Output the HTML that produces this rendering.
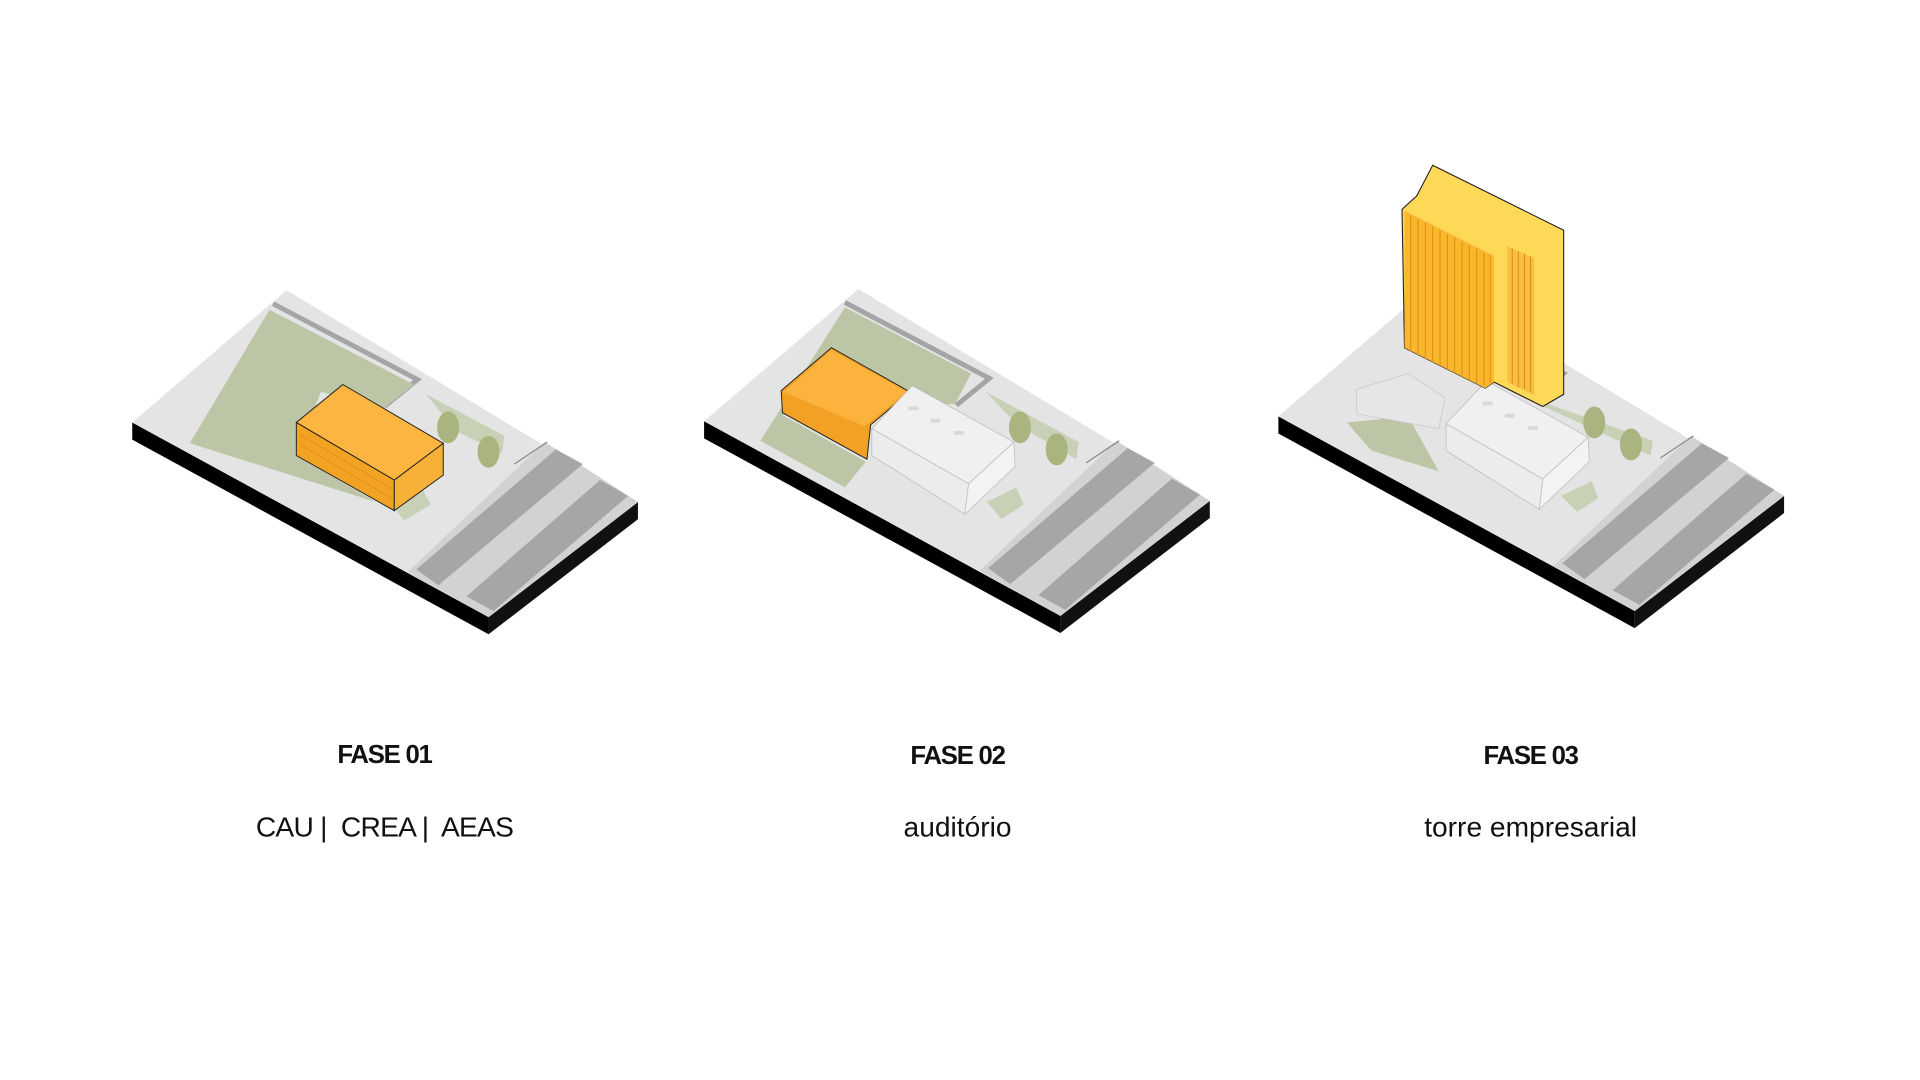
<!DOCTYPE html>
<html><head><meta charset="utf-8"><style>
html,body{margin:0;padding:0;background:#fff;}
svg{display:block;}
text{font-family:"Liberation Sans",sans-serif;fill:#111;text-anchor:middle;white-space:pre;}
</style></head><body>
<svg width="1920" height="1080" viewBox="0 0 1568 882" preserveAspectRatio="none" xmlns="http://www.w3.org/2000/svg">
<defs>
<g id="board">
  <polygon points="575,344 866,503 866,517 575,358" fill="#000"/>
  <polygon points="866,503 988,409 988,423 866,517" fill="#111"/>
  <polygon points="701,236 988,409 866,503 575,344" fill="#e4e4e4"/>
  <polygon points="912,360 988,409 866,503 800,466" fill="#d2d2d2"/>
  <polygon points="921,366 943,378 825,477 807,464" fill="#a6a6a6"/>
  <polygon points="957,391 980,404 870,498 848,486" fill="#a6a6a6"/>
  <line x1="914" y1="360" x2="887" y2="378" stroke="#888" stroke-width="1"/>
  <polyline points="690,247 808,309 781,331" fill="none" stroke="#a5a5a5" stroke-width="4"/>
</g>
</defs>

<g transform="translate(-467,1)"><use href="#board"/></g>
<polygon points="220,253 338,314 314,333 262,320 242,372 307,410 155,362" fill="#bcc6a7"/>
<polygon points="348,322 412,356 410,370 372,352" fill="#c8d0b6"/>
<polygon points="318,410 345,400 352,412 330,425" fill="#c8d0b6"/>
<polygon points="242,345 322,392 322,417 242,372" fill="#f2a323" stroke="#222" stroke-width="0.8"/>
<polygon points="322,392 362,362 362,388 322,417" fill="#f7b038" stroke="#222" stroke-width="0.8"/>
<polygon points="280,314 362,362 322,392 242,345" fill="#fbb540" stroke="#222" stroke-width="0.8"/>
<g stroke="#e08c10" stroke-width="0.6">
<line x1="245" y1="355" x2="320" y2="399"/><line x1="245" y1="363" x2="320" y2="407"/>
</g>
<ellipse cx="366" cy="349" rx="9" ry="13" fill="#a9b47f"/>
<ellipse cx="399" cy="369" rx="9" ry="13" fill="#a9b47f"/>

<use href="#board"/>
<polygon points="690,251 793,305 780,330 712,330 639,339 707,377 690,398 621,360" fill="#bcc6a7"/>
<polygon points="805,320 881,361 879,375 831,347" fill="#c8d0b6"/>
<polygon points="806,410 830,398 836,412 818,424" fill="#c8d0b6"/>
<polygon points="638,319 679,284 743,320 711,347 708,375 639,337" fill="#f2a125" stroke="#222" stroke-width="0.8"/>
<polygon points="640,320 679,286 741,320 706,348" fill="#fbb33e"/>
<polygon points="712,350 791,395 788,420 712,372" fill="#ececec" stroke="#bbb" stroke-width="0.6"/>
<polygon points="791,395 828,361 829,381 788,420" fill="#f3f3f3" stroke="#bbb" stroke-width="0.6"/>
<polygon points="745,315 828,361 791,395 712,350" fill="#f0f0f0" stroke="#bbb" stroke-width="0.6"/>
<g fill="#d8d8d8"><rect x="742" y="332" width="8" height="3"/><rect x="760" y="342" width="8" height="3"/><rect x="779" y="352" width="8" height="3"/></g>
<ellipse cx="833" cy="349" rx="9" ry="13" fill="#a9b47f"/>
<ellipse cx="863" cy="367" rx="9" ry="13" fill="#a9b47f"/>

<g transform="translate(469,-4)"><use href="#board"/></g>
<polygon points="1100,345 1150,340 1175,385 1120,368" fill="#bcc6a7"/>
<polygon points="1230,318 1350,360 1348,372 1300,350" fill="#c8d0b6"/>
<polygon points="1275,405 1300,393 1305,407 1288,418" fill="#c8d0b6"/>
<polygon points="1108,318 1150,305 1180,325 1175,350 1108,338" fill="#e6e6e6" stroke="#c5c5c5" stroke-width="0.6"/>
<polygon points="1181,346 1260,391 1257,416 1181,368" fill="#ececec" stroke="#bbb" stroke-width="0.6"/>
<polygon points="1260,391 1297,357 1298,377 1257,416" fill="#f3f3f3" stroke="#bbb" stroke-width="0.6"/>
<polygon points="1214,311 1297,357 1260,391 1181,346" fill="#f0f0f0" stroke="#bbb" stroke-width="0.6"/>
<g fill="#d8d8d8"><rect x="1211" y="328" width="8" height="3"/><rect x="1229" y="338" width="8" height="3"/><rect x="1248" y="348" width="8" height="3"/></g>
<ellipse cx="1302" cy="345" rx="9" ry="13" fill="#a9b47f"/>
<ellipse cx="1332" cy="363" rx="9" ry="13" fill="#a9b47f"/>
<polygon points="1170,135 1277,188 1277,322 1260,332 1220,312 1213,317 1147,284 1145,171 1157,160" fill="#fed957" stroke="#222" stroke-width="0.9"/>
<polygon points="1147,172 1220,209 1220,312 1213,317 1147,284" fill="#f9b72e"/>
<polygon points="1231,201 1253,211 1253,323 1231,312" fill="#f6c040"/>
<g stroke="#e08a10" stroke-width="0.8">
<line x1="1152" y1="176" x2="1152" y2="287"/><line x1="1158" y1="179" x2="1158" y2="290"/>
<line x1="1164" y1="182" x2="1164" y2="293"/><line x1="1170" y1="185" x2="1170" y2="296"/>
<line x1="1176" y1="188" x2="1176" y2="299"/><line x1="1182" y1="191" x2="1182" y2="302"/>
<line x1="1188" y1="194" x2="1188" y2="305"/><line x1="1194" y1="197" x2="1194" y2="308"/>
<line x1="1200" y1="200" x2="1200" y2="311"/><line x1="1206" y1="203" x2="1206" y2="313"/>
<line x1="1212" y1="206" x2="1212" y2="315"/><line x1="1217" y1="208" x2="1217" y2="313"/>
<line x1="1235" y1="203" x2="1235" y2="313"/><line x1="1240" y1="205" x2="1240" y2="316"/>
<line x1="1245" y1="207" x2="1245" y2="318"/><line x1="1250" y1="209" x2="1250" y2="320"/>
</g>

<text x="314" y="623" font-size="21" font-weight="bold" letter-spacing="-1">FASE 01</text>
<text x="314" y="683" font-size="23" letter-spacing="-0.6">CAU |  CREA |  AEAS</text>
<text x="782" y="624" font-size="21" font-weight="bold" letter-spacing="-1">FASE 02</text>
<text x="782" y="683" font-size="23" letter-spacing="0">auditório</text>
<text x="1250" y="624" font-size="21" font-weight="bold" letter-spacing="-1">FASE 03</text>
<text x="1250" y="683" font-size="23" letter-spacing="0">torre empresarial</text>
</svg>
</body></html>
